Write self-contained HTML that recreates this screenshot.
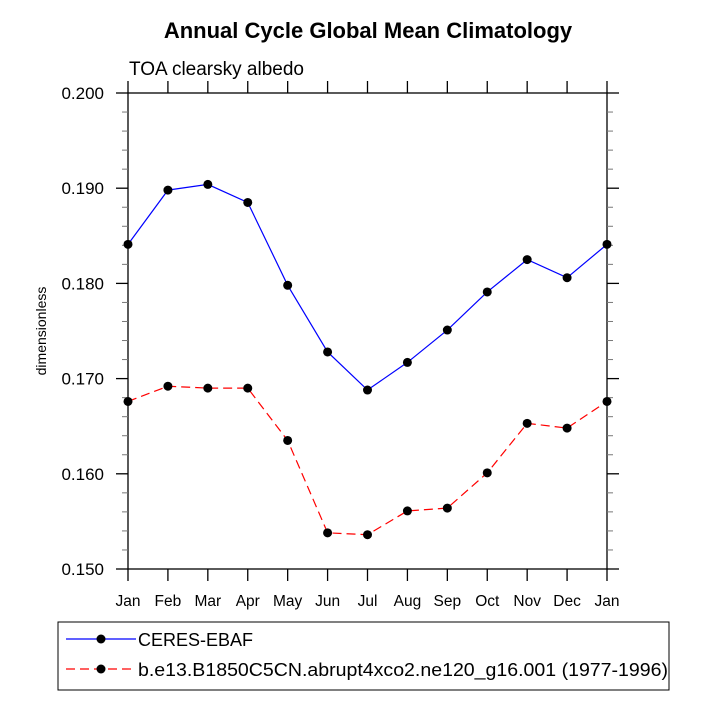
<!DOCTYPE html>
<html><head><meta charset="utf-8"><style>
body{margin:0;background:#fff;}
svg{display:block;font-family:"Liberation Sans",Arial,sans-serif;}
</style></head><body>
<svg id="chart" width="706" height="706" viewBox="0 0 706 706">
<text x="368" y="38" text-anchor="middle" font-size="22" font-weight="bold">Annual Cycle Global Mean Climatology</text>
<text x="129" y="75" font-size="19">TOA clearsky albedo</text>
<text transform="translate(46,331) rotate(-90)" text-anchor="middle" font-size="14">dimensionless</text>
<rect x="128" y="93" width="479" height="476" fill="none" stroke="#000" stroke-width="1.3"/>
<g id="axes"></g>
<g id="series"></g>
<g>
<rect x="58" y="622" width="611" height="68" fill="none" stroke="#000" stroke-width="1"/>
<g>
<line x1="66" y1="639" x2="136" y2="639" stroke="#0000ff" stroke-width="1.2"/>
<circle cx="101" cy="639" r="4.5" fill="#000"/>
<text x="138" y="646" font-size="18">CERES-EBAF</text>
</g>
<g>
<line x1="66" y1="669" x2="136" y2="669" stroke="#ff0000" stroke-width="1.2" stroke-dasharray="9,5"/>
<circle cx="101" cy="669" r="4.5" fill="#000"/>
<text x="138" y="676" font-size="18" textLength="530" lengthAdjust="spacingAndGlyphs">b.e13.B1850C5CN.abrupt4xco2.ne120_g16.001 (1977-1996)</text>
</g>
</g>
</svg>
<script>
const months=["Jan","Feb","Mar","Apr","May","Jun","Jul","Aug","Sep","Oct","Nov","Dec","Jan"];
const ceres=[0.1841,0.1898,0.1904,0.1885,0.1798,0.1728,0.1688,0.1717,0.1751,0.1791,0.1825,0.1806,0.1841];
const model=[0.1676,0.1692,0.1690,0.1690,0.1635,0.1538,0.1536,0.1561,0.1564,0.1601,0.1653,0.1648,0.1676];
const yTicks=[0.150,0.160,0.170,0.180,0.190,0.200];
const yTickLabels=["0.150","0.160","0.170","0.180","0.190","0.200"];
const yMinor=[0.152,0.154,0.156,0.158,0.162,0.164,0.166,0.168,0.172,0.174,0.176,0.178,0.182,0.184,0.186,0.188,0.192,0.194,0.196,0.198];

const NS="http://www.w3.org/2000/svg";
const X0=128,X1=607,Y0=569,Y1=93,ymin=0.15,ymax=0.2;
function xs(i){return X0+(X1-X0)*i/(months.length-1);}
function ys(v){return Y0-(v-ymin)/(ymax-ymin)*(Y0-Y1);}
function mk(tag,attrs,parent){const e=document.createElementNS(NS,tag);for(const k in attrs)e.setAttribute(k,attrs[k]);parent.appendChild(e);return e;}
const axes=document.getElementById('axes');
yTicks.forEach((v,i)=>{
  const y=ys(v);
  const l1=mk('line',{x1:X0-12,x2:X0,y1:y,y2:y,stroke:'#000','stroke-width':1.3},axes);
  
  
  const l2=mk('line',{x1:X1,x2:X1+12,y1:y,y2:y,stroke:'#000','stroke-width':1.3},axes);
  
  
  const t=mk('text',{x:X0-24,y:y+6,'text-anchor':'end','font-size':'17'},axes);
  t.textContent=yTickLabels[i];
  
  
});
yMinor.forEach(v=>{
  const y=ys(v);
  const a=mk('line',{x1:X0-6,x2:X0,y1:y,y2:y,stroke:'#777'},axes);
  
  
  const b=mk('line',{x1:X1,x2:X1+6,y1:y,y2:y,stroke:'#777'},axes);
  
  
});
months.forEach((m,i)=>{
  const x=xs(i);
  const a=mk('line',{x1:x,x2:x,y1:Y0,y2:Y0+12,stroke:'#000','stroke-width':1.3},axes);
  
  
  const b=mk('line',{x1:x,x2:x,y1:Y1-12,y2:Y1,stroke:'#000','stroke-width':1.3},axes);
  
  
  const t=mk('text',{x:x,y:Y0+37,'text-anchor':'middle','font-size':'15.5'},axes);
  t.textContent=m;
  
  
});
const ser=document.getElementById('series');
function draw(data,color,dash,name){
  const pts=data.map((v,i)=>xs(i)+','+ys(v)).join(' ');
  const pl=mk('polyline',{points:pts,fill:'none',stroke:color,'stroke-width':'1.2','stroke-dasharray':dash},ser);
  
  
  data.forEach((v,i)=>{
    const c=mk('circle',{cx:xs(i),cy:ys(v),r:4.5,fill:'#000'},ser);
    
    
  });
}
draw(ceres,'#0000ff','none','ceres');
draw(model,'#ff0000','9,5','model');
</script>
</body></html>
